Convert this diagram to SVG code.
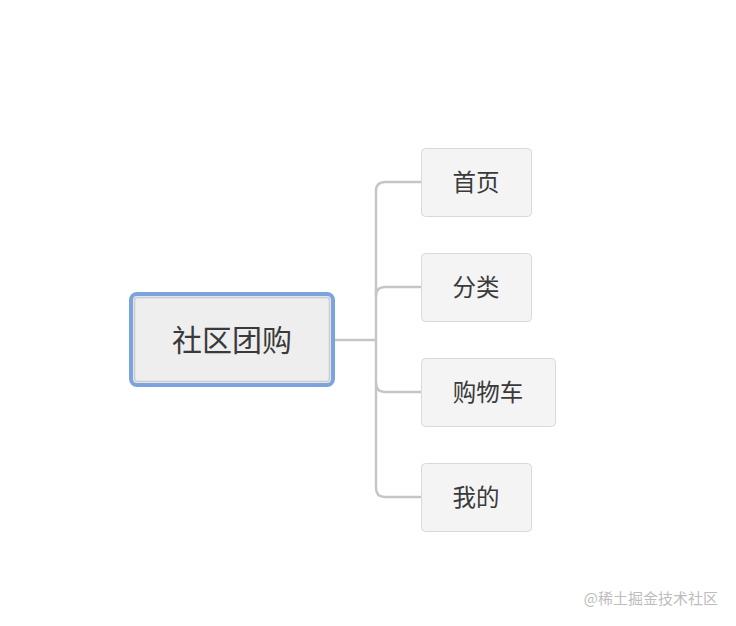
<svg xmlns="http://www.w3.org/2000/svg" width="736" height="626" viewBox="0 0 736 626">
<style>
.child rect{fill:#f4f4f4;stroke:#d9d9d9;stroke-width:1}
.child text{font-family:"Noto Sans CJK SC","Noto Sans",sans-serif;font-size:23.5px;fill:#3a3a3a;text-anchor:middle}
.conn{fill:none;stroke:#c6c6c6;stroke-width:2.5}
</style>
<rect width="736" height="626" fill="#ffffff"/>
<g id="connectors">
<path class="conn" d="M334 340 H376"/>
<path class="conn" d="M421 182 H385 Q376 182 376 191 V488 Q376 497 385 497 H421"/>
<path class="conn" d="M421 287 H385 Q376 287 376 296"/>
<path class="conn" d="M421 392 H385 Q376 392 376 383"/>
</g>
<g id="root">
<rect x="131" y="294" width="202" height="91" rx="6" fill="#eeeeee" stroke="#7ba4de" stroke-width="4"/>
<rect x="134.5" y="297.5" width="195" height="84" rx="3" fill="none" stroke="#cccccc" stroke-width="1.5"/>
<text x="232" y="351" font-family="Noto Sans CJK SC,Noto Sans,sans-serif" font-size="30" fill="#3a3a3a" text-anchor="middle">社区团购</text>
</g>
<g id="n1" class="child"><rect x="421.5" y="148.5" width="110" height="68" rx="4"/><text x="476" y="191">首页</text></g>
<g id="n2" class="child"><rect x="421.5" y="253.5" width="110" height="68" rx="4"/><text x="476" y="296">分类</text></g>
<g id="n3" class="child"><rect x="421.5" y="358.5" width="134" height="68" rx="4"/><text x="488" y="401">购物车</text></g>
<g id="n4" class="child"><rect x="421.5" y="463.5" width="110" height="68" rx="4"/><text x="476" y="506">我的</text></g>
<text x="718" y="604" font-family="Noto Sans CJK SC,Noto Sans,sans-serif" font-size="15" fill="#bdbdbd" text-anchor="end">@稀土掘金技术社区</text>
</svg>
